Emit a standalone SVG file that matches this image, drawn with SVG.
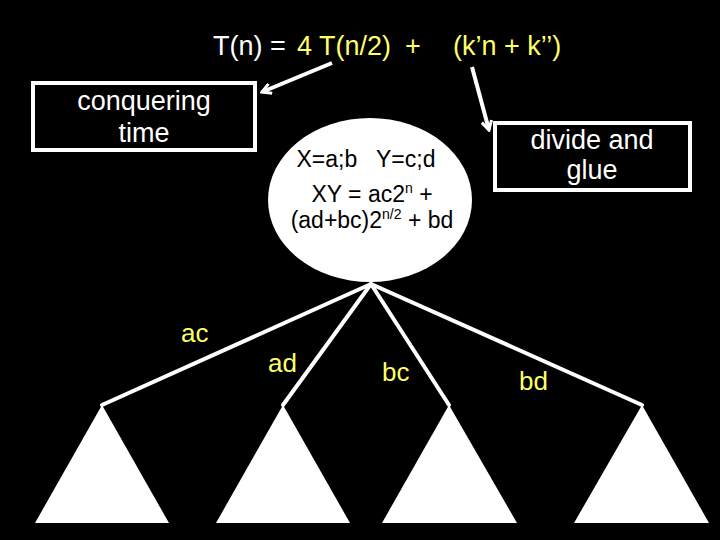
<svg xmlns="http://www.w3.org/2000/svg" width="720" height="540" viewBox="0 0 720 540">
<style>
.t{font-family:"Liberation Sans",Arial,sans-serif;}
.w{fill:#ffffff;}
.y{fill:#ffff66;}
.box{fill:#000;stroke:#fff;stroke-width:4;}
.edge{stroke:#fff;stroke-width:4;fill:none;stroke-linecap:round;}
.arr{stroke:#fff;stroke-width:4;fill:none;}
</style>
<defs>
<marker id="ah" viewBox="0 0 12 12" refX="10" refY="6" markerWidth="12" markerHeight="12" markerUnits="userSpaceOnUse" orient="auto">
<polyline points="1,1 10,6 1,11" fill="none" stroke="#fff" stroke-width="3"/>
</marker>
</defs>
<rect width="720" height="540" fill="#000"/>
<g id="title">
<text class="t" y="55" font-size="27"><tspan class="w" x="213">T(n) =</tspan><tspan class="y" x="297">4 T(n/2)</tspan><tspan class="y" x="405">+</tspan><tspan class="y" x="453">(k’n + k’’)</tspan></text>
</g>
<g id="conquering">
<rect class="box" x="33" y="83" width="222" height="67"/>
<text class="t w" x="144" y="110" font-size="27" text-anchor="middle">conquering</text>
<text class="t w" x="144" y="142" font-size="27" text-anchor="middle">time</text>
</g>
<g id="divide">
<rect class="box" x="495" y="123" width="195" height="67"/>
<text class="t w" x="592" y="149" font-size="27" text-anchor="middle">divide and</text>
<text class="t w" x="592" y="179" font-size="27" text-anchor="middle">glue</text>
</g>
<g id="connectors">
<line class="arr" x1="332" y1="63" x2="262" y2="92" marker-end="url(#ah)"/>
<line class="arr" x1="472" y1="67" x2="489" y2="130" marker-end="url(#ah)"/>
<line class="edge" x1="371" y1="284" x2="102" y2="405"/>
<line class="edge" x1="371" y1="284" x2="283" y2="405"/>
<line class="edge" x1="371" y1="284" x2="449" y2="405"/>
<line class="edge" x1="371" y1="284" x2="642" y2="405"/>
</g>
<g id="root">
<ellipse cx="370" cy="200" rx="102" ry="82" fill="#fff"/>
<text class="t" x="366" y="167" font-size="23" text-anchor="middle" fill="#000" xml:space="preserve">X=a;b   Y=c;d</text>
<text class="t" x="372" y="202" font-size="23" text-anchor="middle" fill="#000">XY = ac2<tspan font-size="14" dy="-9">n</tspan><tspan dy="9"> +</tspan></text>
<text class="t" x="372" y="228" font-size="23" text-anchor="middle" fill="#000">(ad+bc)2<tspan font-size="14" dy="-9">n/2</tspan><tspan dy="9"> + bd</tspan></text>
</g>
<g id="tri1"><polygon points="102,405 35,523 169,523" fill="#fff"/></g>
<g id="tri2"><polygon points="283,405 216,523 350,523" fill="#fff"/></g>
<g id="tri3"><polygon points="449,405 382,523 517,523" fill="#fff"/></g>
<g id="tri4"><polygon points="642,405 574,523 709,523" fill="#fff"/></g>
<g id="labels">
<text class="t y" x="181" y="342" font-size="26">ac</text>
<text class="t y" x="268" y="372" font-size="26">ad</text>
<text class="t y" x="382" y="381" font-size="26">bc</text>
<text class="t y" x="519" y="390" font-size="26">bd</text>
</g>
</svg>
